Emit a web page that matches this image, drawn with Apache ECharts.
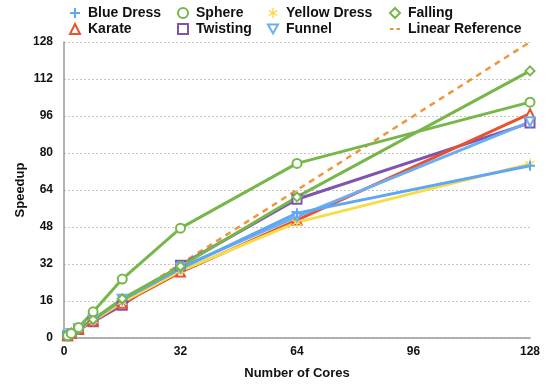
<!DOCTYPE html>
<html><head><meta charset="utf-8">
<script src="https://cdn.jsdelivr.net/npm/echarts@6/dist/echarts.min.js"></script>
<style>html,body{margin:0;padding:0;background:#fff}#c{width:547px;height:385px}</style>
</head><body><div id="c"></div>
<script>
var cores = [1, 2, 4, 8, 16, 32, 64, 128];
var blueDress = [1, 2, 4, 7.8, 16.5, 30, 54, 74.5];
var sphere = [1, 2, 4.5, 11.3, 25.5, 47.5, 75.5, 102];
var yellowDress = [1, 2, 3.9, 7.5, 15.5, 29, 50, 75.3];
var falling = [1, 2, 4, 8, 17, 31, 61, 115.5];
var karate = [1, 2, 3.8, 7.3, 15, 28.5, 51, 97];
var twisting = [1, 1.9, 3.7, 7, 14.2, 31.5, 60, 93];
var funnel = [1, 2, 4, 7.9, 16.8, 30.5, 52.5, 93.5];
var linearRef = [1, 2, 4, 8, 16, 32, 64, 128];
var xTicks = [0, 32, 64, 96, 128];
var yTicks = [0, 16, 32, 48, 64, 80, 96, 112, 128];

var FONT = '"Liberation Sans", Arial, sans-serif';
var plus = 'path://M4,0 L6,0 L6,4 L10,4 L10,6 L6,6 L6,10 L4,10 L4,6 L0,6 L0,4 L4,4 Z';
var aster = 'path://M4.3,0 L5.7,0 L5.7,3.8 L9,1.9 L9.7,3.1 L6.4,5 L9.7,6.9 L9,8.1 L5.7,6.2 L5.7,10 L4.3,10 L4.3,6.2 L1,8.1 L0.3,6.9 L3.6,5 L0.3,3.1 L1,1.9 L4.3,3.8 Z';
var dashIcon = 'path://M0,0 L4,0 L4,2 L0,2 Z M7,0 L11,0 L11,2 L7,2 Z';
var downTri = 'path://M0,0 L10,0 L5,9 Z';

function pairs(v){ return cores.map(function(c,i){ return [c, v[i]]; }); }

var defs = [
  {name:'Linear Reference', data:linearRef, color:'#f0953a', symbol:'none', dashed:true, icon:dashIcon},
  {name:'Twisting', data:twisting, color:'#7d55b1', symbol:'rect', hollow:true, icon:'rect'},
  {name:'Karate', data:karate, color:'#e9522c', symbol:'triangle', hollow:true, icon:'triangle'},
  {name:'Yellow Dress', data:yellowDress, color:'#f7dc4a', symbol:aster, icon:aster},
  {name:'Funnel', data:funnel, color:'#6aaef4', symbol:downTri, hollow:true, icon:downTri},
  {name:'Blue Dress', data:blueDress, color:'#5fa7f3', symbol:plus, icon:plus},
  {name:'Falling', data:falling, color:'#77b74a', symbol:'diamond', hollow:true, icon:'diamond'},
  {name:'Sphere', data:sphere, color:'#77b74a', symbol:'circle', hollow:true, icon:'circle'}
];
var byName = {};
defs.forEach(function(d){ byName[d.name] = d; });

var series = defs.map(function(d){
  return {
    name: d.name, type:'line', data: pairs(d.data),
    symbol: d.symbol, symbolSize: d.hollow ? 9 : 10,
    showSymbol: d.symbol !== 'none',
    lineStyle: {color:d.color, width: d.dashed ? 2.5 : 3, type: d.dashed ? [6,5] : 'solid'},
    itemStyle: d.hollow ? {color:'#fff', borderColor:d.color, borderWidth:2} : {color:d.color, borderWidth:0},
    color: d.color,
    animation:false
  };
});

function legendCol(textLeft, names){
  return {
    orient:'vertical', left:textLeft - 23, top:1, itemWidth:10, itemHeight:10, itemGap:2,
    textStyle:{fontFamily:FONT, fontWeight:'bold', fontSize:14, lineHeight:14, color:'#111', padding:[0,0,0,3]},
    selectedMode:false,
    data: names.map(function(n){
      var d = byName[n];
      return {name:n, icon:d.icon,
        itemStyle: d.hollow ? {color:'#fff', borderColor:d.color, borderWidth:2} : {color:d.color, borderWidth:0}};
    })
  };
}

var option = {
  backgroundColor:'#fff',
  animation:false,
  legend:[
    legendCol(87, ['Blue Dress','Karate']),
    legendCol(195, ['Sphere','Twisting']),
    legendCol(285, ['Yellow Dress','Funnel']),
    legendCol(407, ['Falling','Linear Reference'])
  ],
  grid:{left:64, right:17, top:42, bottom:46},
  xAxis:{
    type:'value', min:xTicks[0], max:xTicks[xTicks.length-1], interval:32,
    name:'Number of Cores', nameLocation:'middle', nameGap:29, nameMoveOverlap:false,
    nameTextStyle:{fontFamily:FONT, fontWeight:'bold', fontSize:13, color:'#111'},
    axisLine:{show:true, lineStyle:{color:'#999', width:1.5}},
    axisTick:{show:false},
    axisLabel:{fontFamily:FONT, fontWeight:'bold', fontSize:12, color:'#111', margin:8},
    splitLine:{show:false}
  },
  yAxis:{
    type:'value', min:yTicks[0], max:yTicks[yTicks.length-1], interval:16,
    name:'Speedup', nameLocation:'middle', nameGap:37, nameMoveOverlap:false,
    nameTextStyle:{fontFamily:FONT, fontWeight:'bold', fontSize:13, color:'#111'},
    axisLine:{show:true, lineStyle:{color:'#999', width:1.5}},
    axisTick:{show:false},
    axisLabel:{fontFamily:FONT, fontWeight:'bold', fontSize:12, color:'#111', margin:11},
    splitLine:{show:true, lineStyle:{color:'#c4c4c4', type:[2,2], width:1}}
  },
  series: series
};
var chart = echarts.init(document.getElementById('c'), null, {renderer:'canvas'});
chart.setOption(option);
</script></body></html>
